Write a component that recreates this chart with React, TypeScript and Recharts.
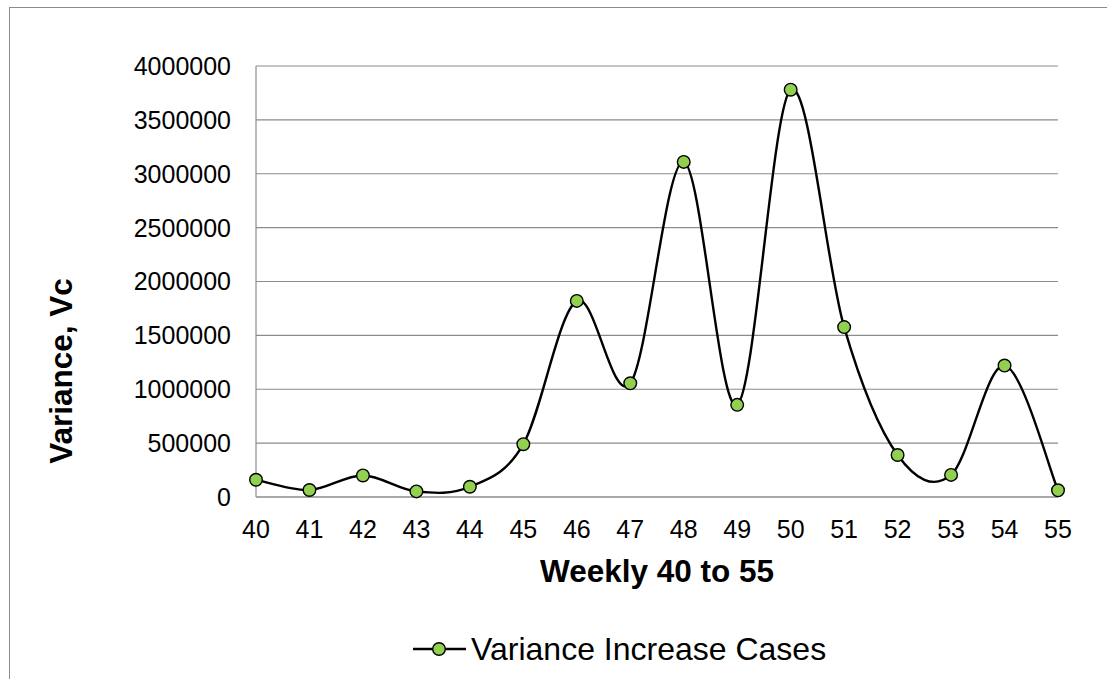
import React from 'react';
import { LineChart, Line, XAxis, YAxis, CartesianGrid, Legend, Label } from 'recharts';

const weeks = ['40', '41', '42', '43', '44', '45', '46', '47', '48', '49', '50', '51', '52', '53', '54', '55'];
const variance = [160000, 65000, 200000, 52000, 95000, 490000, 1820000, 1055000, 3110000, 855000, 3780000, 1577000, 390000, 205000, 1220000, 62000];
const yTicks = [0, 500000, 1000000, 1500000, 2000000, 2500000, 3000000, 3500000, 4000000];
const seriesName = 'Variance Increase Cases';
const xTitle = 'Weekly 40 to 55';
const yTitle = 'Variance, Vc';

const data = weeks.map((w, i) => ({ week: w, value: variance[i] }));

const FONT = '"Liberation Sans", Arial, sans-serif';
const GRID = '#8c8c8c';

// Excel-like smoothed line (Catmull-Rom / cardinal tension 0 Bezier)
const excelCurve: any = (context: any) => {
  let pts: number[][] = [];
  return {
    areaStart() {},
    areaEnd() {},
    lineStart() {
      pts = [];
    },
    lineEnd() {
      const n = pts.length;
      if (!n) return;
      context.moveTo(pts[0][0], pts[0][1]);
      for (let i = 0; i < n - 1; i++) {
        const p0 = pts[i - 1] || pts[i];
        const p1 = pts[i];
        const p2 = pts[i + 1];
        const p3 = pts[i + 2] || pts[i + 1];
        const c1x = p1[0] + (p2[0] - p0[0]) / 6;
        const c1y = p1[1] + (p2[1] - p0[1]) / 6;
        const c2x = p2[0] - (p3[0] - p1[0]) / 6;
        const c2y = p2[1] - (p3[1] - p1[1]) / 6;
        context.bezierCurveTo(c1x, c1y, c2x, c2y, p2[0], p2[1]);
      }
    },
    point(x: number, y: number) {
      pts.push([+x, +y]);
    },
  };
};

const renderLegend = () => (
  <div style={{ display: 'flex', alignItems: 'center', height: 40, fontFamily: FONT, fontSize: 32, color: '#000', whiteSpace: 'nowrap' }}>
    <svg width={53} height={20} style={{ marginRight: 5 }}>
      <line x1={0} y1={10} x2={53} y2={10} stroke="#000" strokeWidth={2.4} />
      <circle cx={26} cy={10} r={6.3} fill="#92D050" stroke="#000" strokeWidth={1.4} />
    </svg>
    <span>{seriesName}</span>
  </div>
);

export default function App() {
  return (
    <div style={{ position: 'fixed', left: 0, top: 0, width: 1107, height: 679, overflow: 'hidden', background: '#fff' }}>
      <div style={{ position: 'absolute', left: 9, top: 7, width: 1300, height: 900, border: '1px solid #8a8a8a' }} />
      <div style={{ position: 'absolute', left: 0, top: 0 }}>
        <LineChart width={1107} height={679} data={data} margin={{ top: 66, right: 49, left: 0, bottom: 30 }}>
          <CartesianGrid vertical={false} stroke={GRID} strokeWidth={1.2} />
          <XAxis
            dataKey="week"
            interval={0}
            tickLine={false}
            tickSize={0}
            tickMargin={23}
            height={112}
            axisLine={{ stroke: GRID, strokeWidth: 1.2 }}
            tick={{ fontSize: 25, fill: '#000', fontFamily: FONT }}
          >
            <Label
              value={xTitle}
              position="insideBottom"
              offset={27}
              style={{ fontSize: 31.5, fontWeight: 'bold', fill: '#000', fontFamily: FONT }}
            />
          </XAxis>
          <YAxis
            width={256}
            domain={[0, 4000000]}
            ticks={yTicks}
            interval={0}
            tickLine={false}
            tickSize={0}
            tickMargin={25}
            axisLine={{ stroke: GRID, strokeWidth: 1.2 }}
            tick={{ fontSize: 25, fill: '#000', fontFamily: FONT }}
          >
            <Label
              content={() => (
                <text
                  x={72}
                  y={371}
                  transform="rotate(-90 72 371)"
                  textAnchor="middle"
                  style={{ fontSize: 31.5, fontWeight: 'bold', fill: '#000', fontFamily: FONT }}
                >
                  {yTitle}
                </text>
              )}
            />
          </YAxis>
          <Legend
            verticalAlign="bottom"
            content={renderLegend}
            wrapperStyle={{ left: 413, top: 629, bottom: 'auto', width: 450, height: 40 }}
          />
          <Line
            dataKey="value"
            name={seriesName}
            type={excelCurve}
            stroke="#000"
            strokeWidth={2.4}
            dot={{ r: 6.3, fill: '#92D050', stroke: '#000', strokeWidth: 1.4 }}
            activeDot={false}
            isAnimationActive={false}
          />
        </LineChart>
      </div>
    </div>
  );
}
